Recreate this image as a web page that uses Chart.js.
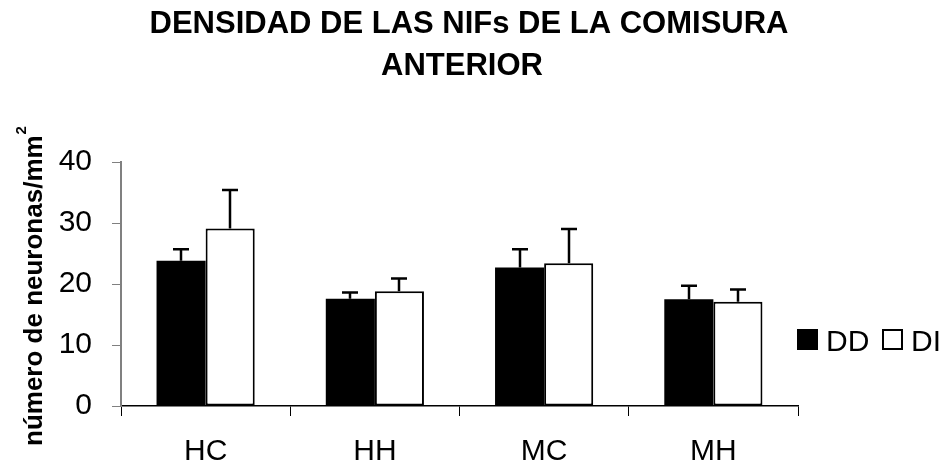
<!DOCTYPE html>
<html>
<head>
<meta charset="utf-8">
<title>Densidad de las NIFs de la comisura anterior</title>
<script src="https://cdn.jsdelivr.net/npm/chart.js@4/dist/chart.umd.min.js"></script>
<style>
  html, body { margin: 0; padding: 0; background: #ffffff; }
  #wrap { width: 947px; height: 466px; }
</style>
</head>
<body>
<div id="wrap"><canvas id="c" width="947" height="466"></canvas></div>
<script>
// Groups and mean density per group, with the standard error drawn above each bar
const categories = ['HC', 'HH', 'MC', 'MH'];
const ddValues = [23.8, 17.6, 22.7, 17.5];
const ddErrors = [1.9, 1.0, 3.0, 2.2];
const diValues = [29.1, 18.8, 23.4, 17.1];
const diErrors = [6.3, 2.1, 5.6, 2.0];
const seriesNames = ['DD', 'DI'];
const yTicks = [0, 10, 20, 30, 40];
const titleLines = ['DENSIDAD DE LAS NIFs DE LA COMISURA', 'ANTERIOR'];
const yTitle = 'número de neuronas/mm';
const yTitleSup = '2';

const FONT = '"Liberation Sans", Arial, Helvetica, sans-serif';

// Error bars: vertical whisker with a cap above each bar
const errorBars = {
  id: 'errorBars',
  afterDatasetsDraw(chart) {
    const ctx = chart.ctx;
    const y = chart.scales.y;
    ctx.save();
    ctx.strokeStyle = '#000';
    ctx.lineWidth = 2.5;
    chart.data.datasets.forEach((ds, i) => {
      const meta = chart.getDatasetMeta(i);
      meta.data.forEach((bar, j) => {
        const top = y.getPixelForValue(ds.data[j] + ds.errors[j]);
        const x = Math.round(bar.x);
        ctx.beginPath();
        ctx.moveTo(x, bar.y);
        ctx.lineTo(x, top);
        ctx.moveTo(x - 8, top);
        ctx.lineTo(x + 8, top);
        ctx.stroke();
      });
    });
    ctx.restore();
  }
};

// Title, rotated axis title and legend
const decorations = {
  id: 'decorations',
  afterDraw(chart) {
    const ctx = chart.ctx;
    ctx.save();
    ctx.fillStyle = '#000';
    ctx.textBaseline = 'alphabetic';

    // chart title
    ctx.font = 'bold 31px ' + FONT;
    ctx.textAlign = 'center';
    ctx.fillText(titleLines[0], 469, 33);
    ctx.fillText(titleLines[1], 462, 75);

    // y axis title
    ctx.save();
    ctx.translate(42, 446);
    ctx.rotate(-Math.PI / 2);
    ctx.textAlign = 'left';
    ctx.font = 'bold 26px ' + FONT;
    ctx.fillText(yTitle, 0, 0);
    const w = ctx.measureText(yTitle).width;
    ctx.font = 'bold 15px ' + FONT;
    ctx.fillText(yTitleSup, w + 1, -16);
    ctx.restore();

    // legend
    ctx.font = '30px ' + FONT;
    ctx.textAlign = 'left';
    const items = chart.data.datasets;
    const boxes = [797, 882];
    items.forEach((ds, i) => {
      const bx = boxes[i];
      ctx.fillStyle = ds.backgroundColor;
      ctx.fillRect(bx, 329, 21, 21);
      ctx.strokeStyle = '#000';
      ctx.lineWidth = 2;
      ctx.strokeRect(bx + 1, 330, 19, 19);
      ctx.fillStyle = '#000';
      ctx.fillText(ds.label, bx + 29, 351);
    });
    ctx.restore();
  }
};

new Chart(document.getElementById('c'), {
  type: 'bar',
  data: {
    labels: categories,
    datasets: [
      {
        label: seriesNames[0],
        data: ddValues,
        errors: ddErrors,
        backgroundColor: '#000000',
        borderColor: '#000000',
        borderWidth: 0
      },
      {
        label: seriesNames[1],
        data: diValues,
        errors: diErrors,
        backgroundColor: '#ffffff',
        borderColor: '#000000',
        borderWidth: 2,
        borderSkipped: false
      }
    ]
  },
  options: {
    responsive: false,
    animation: false,
    devicePixelRatio: 1,
    layout: { padding: { top: 162, right: 149, bottom: 0, left: 0 } },
    datasets: { bar: { categoryPercentage: 0.58, barPercentage: 1.0 } },
    plugins: {
      legend: { display: false },
      title: { display: false },
      tooltip: { enabled: false }
    },
    scales: {
      x: {
        offset: true,
        afterFit(scale) { scale.height = 60; },
        grid: {
          offset: true,
          drawOnChartArea: false,
          drawTicks: true,
          tickLength: 10,
          color: '#000',
          lineWidth: 1
        },
        border: { display: true, color: '#000', width: 1.5 },
        ticks: {
          color: '#000',
          font: { family: FONT, size: 30 },
          padding: 18,
          maxRotation: 0
        }
      },
      y: {
        min: 0,
        max: 40,
        afterFit(scale) { scale.width = 121; },
        afterBuildTicks(scale) { scale.ticks = yTicks.map(v => ({ value: v })); },
        grid: {
          drawOnChartArea: false,
          drawTicks: true,
          tickLength: 9,
          color: '#808080',
          lineWidth: 1
        },
        border: { display: true, color: '#808080', width: 2 },
        ticks: {
          color: '#000',
          font: { family: FONT, size: 30 },
          padding: 20
        }
      }
    }
  },
  plugins: [errorBars, decorations]
});
</script>
</body>
</html>
